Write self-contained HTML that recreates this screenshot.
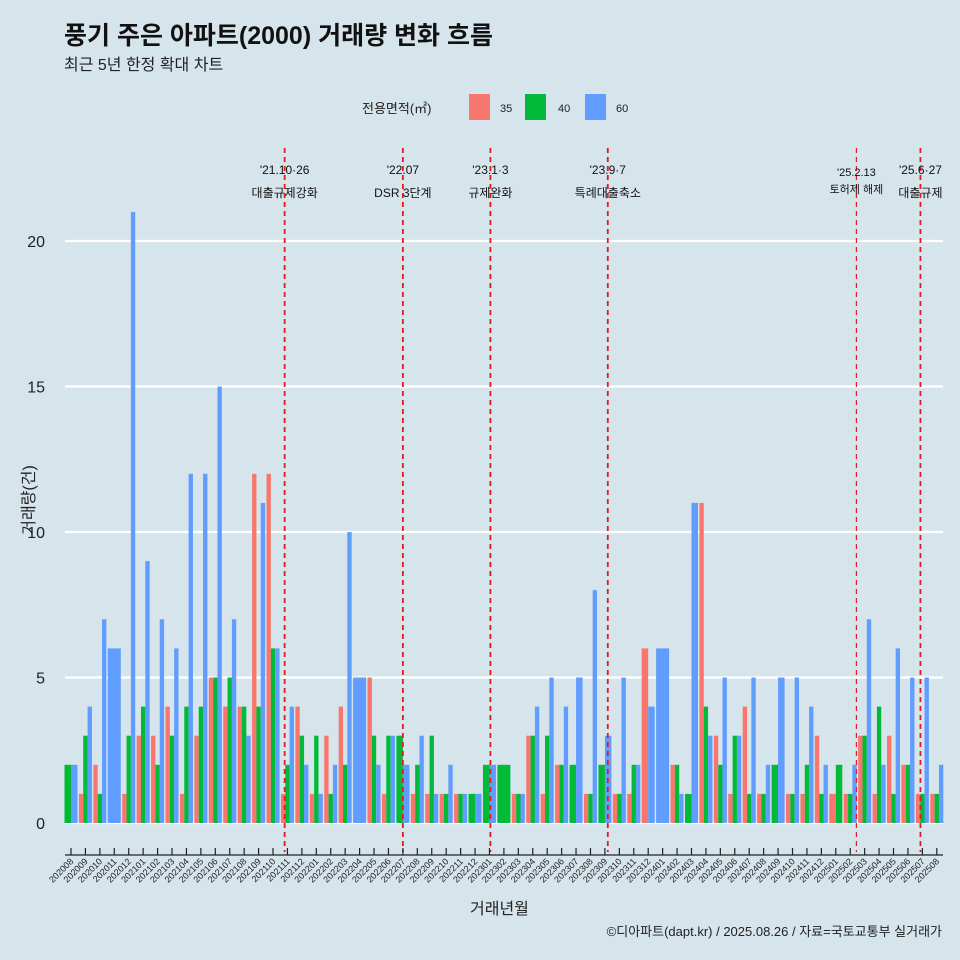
<!DOCTYPE html>
<html><head><meta charset="utf-8"><style>
body{margin:0;background:#d6e4eb;}
svg{display:block;font-family:"Liberation Sans","Noto Sans CJK KR",sans-serif;}
</style></head><body>
<svg id="c" width="960" height="960" viewBox="0 0 960 960">
<rect width="960" height="960" fill="#d6e4eb"/>
<text x="64" y="44" font-size="25" font-weight="bold" fill="#111">풍기 주은 아파트(2000) 거래량 변화 흐름</text>
<text x="64" y="70" font-size="16" fill="#222">최근 5년 한정 확대 차트</text>
<g>
<text x="362" y="113" font-size="13" fill="#222">전용면적(㎡)</text>
<rect x="469" y="94" width="21" height="26" fill="#f8766d"/>
<text x="500" y="112" font-size="11" fill="#222">35</text>
<rect x="525" y="94" width="21" height="26" fill="#00ba38"/>
<text x="558" y="112" font-size="11" fill="#222">40</text>
<rect x="585" y="94" width="21" height="26" fill="#619cff"/>
<text x="616" y="112" font-size="11" fill="#222">60</text>
</g>
<g id="grid"></g><g id="bars"></g><g id="events"></g><g id="axes"></g>
<text x="470" y="914" font-size="16" fill="#222">거래년월</text>
<text transform="translate(34,500) rotate(-90)" text-anchor="middle" font-size="16" fill="#222">거래량(건)</text>
<text x="942" y="936" text-anchor="end" font-size="13" fill="#222">©디아파트(dapt.kr) / 2025.08.26 / 자료=국토교통부 실거래가</text>
</svg>
<script>
const months=["202008","202009","202010","202011","202012","202101","202102","202103","202104","202105","202106","202107","202108","202109","202110","202111","202112","202201","202202","202203","202204","202205","202206","202207","202208","202209","202210","202211","202212","202301","202302","202303","202304","202305","202306","202307","202308","202309","202310","202311","202312","202401","202402","202403","202404","202405","202406","202407","202408","202409","202410","202411","202412","202501","202502","202503","202504","202505","202506","202507","202508"];
const s35=[0,1,2,0,1,3,3,4,1,3,5,4,4,12,12,1,4,1,3,4,0,5,1,0,1,1,1,1,0,0,0,1,3,1,2,0,1,0,1,1,6,0,2,0,11,3,1,4,1,0,1,1,3,1,1,3,1,3,2,1,1];
const s40=[2,3,1,0,3,4,2,3,4,4,5,5,4,4,6,2,3,3,1,2,0,3,3,3,2,3,1,1,1,2,2,1,3,3,2,2,1,2,1,2,0,0,2,1,4,2,3,1,1,2,1,2,1,2,1,3,4,1,2,1,1];
const s60=[2,4,7,6,21,9,7,6,12,12,15,7,3,11,6,4,2,1,2,10,5,2,3,2,3,1,2,1,1,2,0,1,4,5,4,5,8,3,5,2,4,6,1,11,3,5,3,5,2,5,5,4,2,0,2,7,2,6,5,5,2];
const yTicks=[0,5,10,15,20];
const events=["2021-10-26","2022-07-01","2023-01-03","2023-09-07","2025-02-13","2025-06-27"];
const eventLabel1=["'21.10·26","'22.07","'23.1·3","'23.9·7","'25.2.13","'25.6·27"];
const eventLabel2=["대출규제강화","DSR 3단계","규제완화","특례대출축소","토허제 해제","대출규제"];
const series=[s35,s40,s60], colors=["#f8766d","#00ba38","#619cff"], sNames=["35","40","60"];
const NS="http://www.w3.org/2000/svg";
const x0=71, step=14.43, bw=13;
const X=i=>x0+step*i;
const Y=v=>823-v*29.1;
function mk(tag,attrs,parent){const e=document.createElementNS(NS,tag);for(const k in attrs)e.setAttribute(k,attrs[k]);parent.appendChild(e);return e;}
const grid=document.getElementById('grid'),bars=document.getElementById('bars'),ev=document.getElementById('events'),ax=document.getElementById('axes');
yTicks.forEach(t=>{
  const l=mk('line',{x1:65,x2:943,y1:Y(t),y2:Y(t),stroke:'#fff','stroke-width':2.2},grid);
  
  
  const tx=mk('text',{x:45,y:Y(t)+6,'text-anchor':'end','font-size':16,fill:'#222'},grid);
  tx.textContent=t;
  
  
});
months.forEach((m,i)=>{
  const present=[0,1,2].filter(k=>series[k][i]>0);
  const w=bw/present.length;
  present.forEach((k,j)=>{
    const v=series[k][i];
    const r=mk('rect',{x:X(i)-bw/2+j*w,y:Y(v),width:w,height:Y(0)-Y(v),fill:colors[k]},bars);
    
    
  });
});
function monthPos(d){const [y,mo,da]=d.split('-').map(Number);const idx=(y-2020)*12+(mo-8);const dim=new Date(y,mo,0).getDate();return X(idx+(da-1)/dim);}
events.forEach((d,i)=>{
  const x=monthPos(d);
  const thin=i===4;
  const l=mk('line',{x1:x,x2:x,y1:148,y2:852,stroke:'#e41a1c','stroke-width':thin?1.2:1.8,'stroke-dasharray':'5,4'},ev);
  
  
  const fs=thin?11:12;
  const t1=mk('text',{x:x,y:thin?176:174,'text-anchor':'middle','font-size':fs,fill:'#111'},ev);
  t1.textContent=eventLabel1[i];
  
  
  const t2=mk('text',{x:x,y:thin?193:197,'text-anchor':'middle','font-size':fs,fill:'#111'},ev);
  t2.textContent=eventLabel2[i];
  
  
});
const axl=mk('line',{x1:65,x2:943,y1:855,y2:855,stroke:'#222','stroke-width':1.2},ax);


months.forEach((m,i)=>{
  const tk=mk('line',{x1:X(i),x2:X(i),y1:848,y2:855,stroke:'#222','stroke-width':1.2},ax);
  
  
  const t=mk('text',{x:X(i)+3,y:862,'text-anchor':'end','font-size':9,fill:'#222',transform:`rotate(-45 ${X(i)+3} 862)`},ax);
  t.textContent=m;
  
  
});
</script>
</body></html>
